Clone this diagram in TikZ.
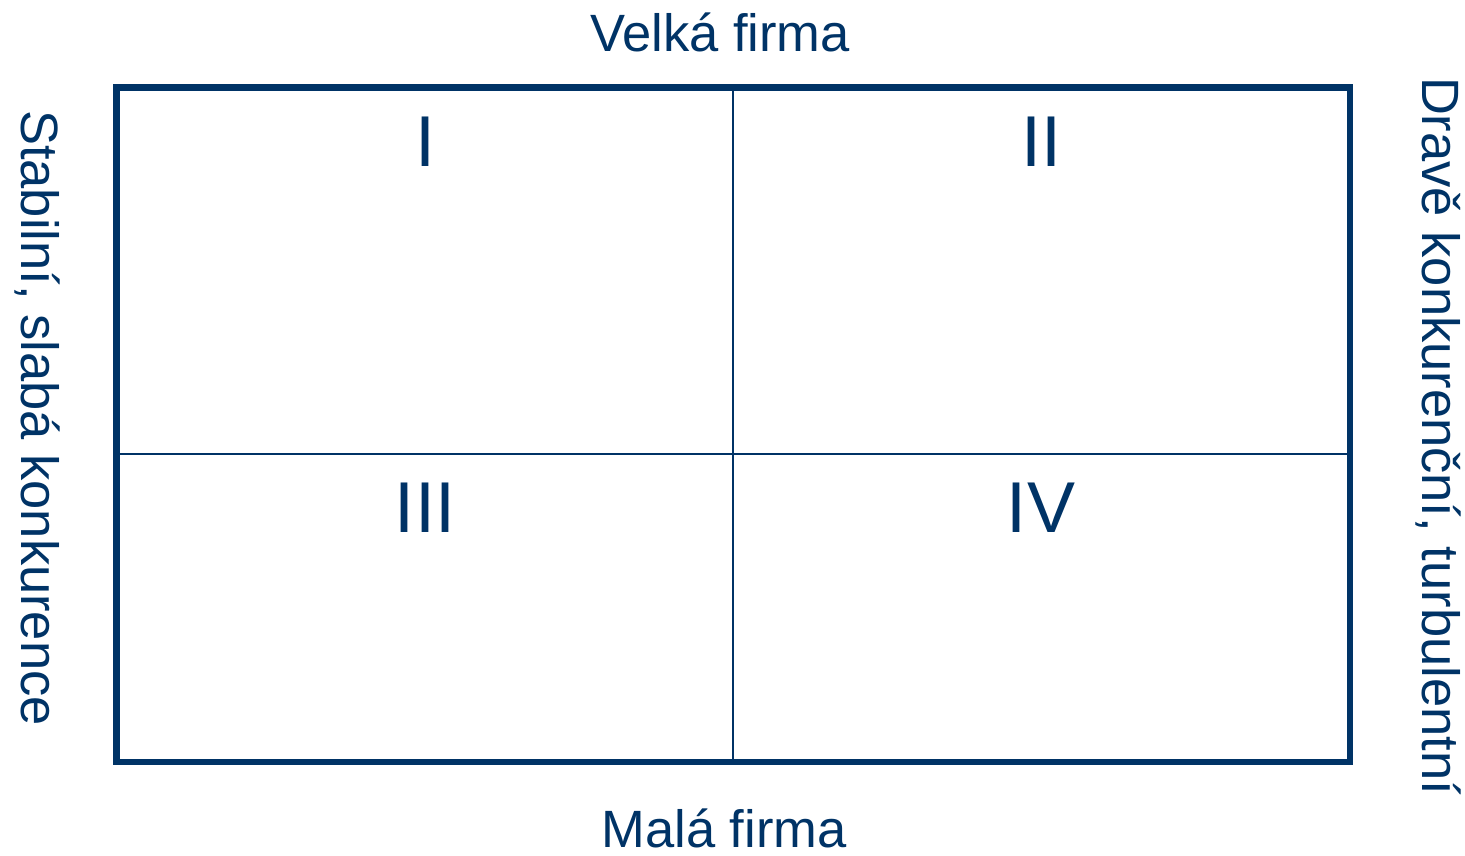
\documentclass[tikz,border=0pt]{standalone}
\usepackage{fontspec}
\setmainfont{Liberation Sans}
\definecolor{navy}{HTML}{003366}
\begin{document}
\begin{tikzpicture}[x=1pt,y=-1pt,
  lbl/.style={text=navy,font=\fontsize{52.5}{60}\selectfont,inner sep=0pt},
  num/.style={text=navy,font=\fontsize{72}{80}\selectfont,inner sep=0pt},
  outer/.style={draw=navy,line width=6.5pt},
  inner/.style={draw=navy,line width=2.5pt}]
\useasboundingbox (0,0) rectangle (1465,855);
\coordinate (tl) at (116.5,87.5);
\coordinate (br) at (1350,762);
\coordinate (vt) at (733,87.5);
\coordinate (vb) at (733,762);
\coordinate (hl) at (116.5,454);
\coordinate (hr) at (1350,454);
\draw[inner] (vt) -- (vb);
\draw[inner] (hl) -- (hr);
\draw[outer] (tl) rectangle (br);
\node[lbl] (top) at (720,32) {Velká firma};
\node[lbl] (bot) at (724,828) {Malá firma};
\node[lbl,rotate=-90] (left) at (37,418) {Stabilní, slabá konkurence};
\node[lbl,rotate=-90] (right) at (1438,436) {Dravě konkurenční, turbulentní};
\node[num] (q1) at (425,142) {I};
\node[num] (q2) at (1041,142) {II};
\node[num] (q3) at (425,508) {III};
\node[num] (q4) at (1041,508) {IV};
\end{tikzpicture}
\end{document}
